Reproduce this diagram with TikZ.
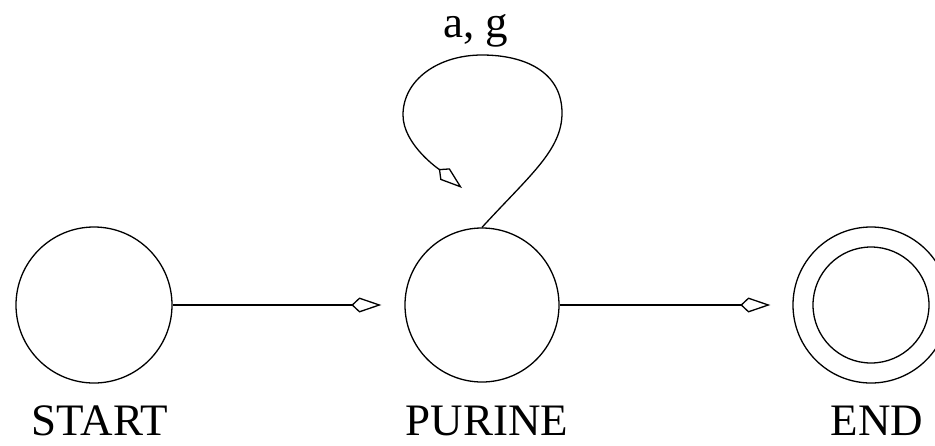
\documentclass[tikz,border=0pt]{standalone}
\usepackage{fontspec}
\setmainfont{Liberation Serif}
\usetikzlibrary{arrows.meta}
\begin{document}
\begin{tikzpicture}[x=1pt,y=-1pt,
  state/.style={draw,circle,line width=1.3pt,minimum size=156pt,inner sep=0pt},
  lbl/.style={font=\fontsize{45}{54}\selectfont,anchor=base,inner sep=0pt},
  conn/.style={line width=1.3pt,-{Kite[open,length=30pt,width=15pt,inset=8pt,line width=1.3pt]}}]
\clip (0,0) rectangle (935,445);
\useasboundingbox (0,0) rectangle (935,445);
\node[state] (S) at (94,305) {};
\node[state,minimum size=154pt] (P) at (482,305) {};
\node[state] (E) at (871,305) {};
\node[draw,circle,line width=1.3pt,minimum size=116pt,inner sep=0pt] (Ei) at (871,305) {};
\node[lbl] (ls) at (100,435) {START};
\node[lbl] (lp) at (487,435) {PURINE};
\node[lbl] (le) at (877,435) {END};
\node[lbl] (la) at (476,37) {a, g};
\coordinate (looptip) at (462,188);
\draw[conn,shorten >=23pt] (S) -- (P);
\draw[conn,shorten >=22pt] (P) -- (E);
\draw[conn] (P.north) .. controls (530,175) and (562,150) .. (562,113)
  .. controls (562,72) and (525,55) .. (482,55)
  .. controls (438,55) and (403,80) .. (403,115)
  .. controls (403,145) and (440,170) .. (looptip);
\end{tikzpicture}
\end{document}
